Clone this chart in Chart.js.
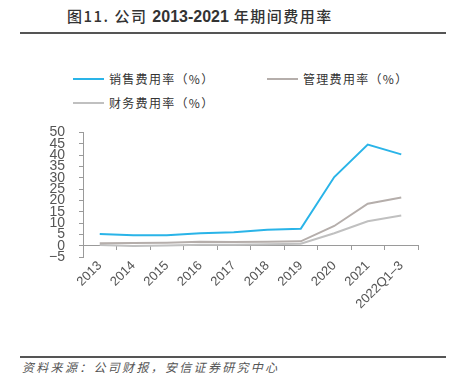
<!DOCTYPE html>
<html><head><meta charset="utf-8">
<script src="https://cdn.jsdelivr.net/npm/chart.js@4"></script>
<style>
html,body{margin:0;padding:0;background:#fff;width:455px;height:389px;overflow:hidden;position:relative;font-family:"Noto Sans CJK SC",sans-serif;}
#title{position:absolute;left:67px;top:5px;font-size:15px;font-weight:500;color:#333;white-space:nowrap;letter-spacing:1.5px;}
#title .num{font-family:"Liberation Sans",Arial,sans-serif;font-weight:bold;font-size:16px;letter-spacing:0;}
.rule{position:absolute;left:20px;width:426px;height:2px;background:#555;}
#legend{position:absolute;left:0;top:0;width:455px;height:120px;}
.li{position:absolute;display:flex;align-items:center;font-size:12px;color:#333;letter-spacing:1.3px;white-space:nowrap;}
.li span.sw{display:inline-block;width:31px;height:2px;margin-right:5px;}
#foot{position:absolute;left:22px;top:358px;font-size:12px;font-style:italic;color:#555;white-space:nowrap;letter-spacing:2.3px;}
#wrap{position:absolute;left:0;top:110px;width:455px;height:230px;}
</style></head>
<body>
<div id="title">图11. 公司 <span class="num">2013-2021</span> 年期间费用率</div>
<div class="rule" style="top:32px"></div>
<div id="legend"></div>
<div id="wrap"><canvas id="c" width="455" height="230"></canvas></div>
<div class="rule" style="top:356px"></div>
<div id="foot">资料来源：公司财报，安信证券研究中心</div>
<script>
const categories = ['2013','2014','2015','2016','2017','2018','2019','2020','2021','2022Q1-3'];
const seriesNames = ['销售费用率（%）','管理费用率（%）','财务费用率（%）'];
const salesRate = [5.2, 4.6, 4.6, 5.5, 5.9, 7.0, 7.5, 30.3, 44.6, 40.3];
const mgmtRate = [1.1, 1.2, 1.3, 1.7, 1.6, 1.7, 1.9, 8.7, 18.5, 21.3];
const finRate = [0.3, -0.1, 0.1, 0.4, 0.4, 0.6, 0.9, 5.5, 10.8, 13.3];
const yTicks = [50,45,40,35,30,25,20,15,10,5,0,-5];
const colors = ['#2ab4e8','#b5aeab','#c0c0c0'];

const legendPos = [[73,70],[267,70],[73,94]];
const lg = document.getElementById('legend');
seriesNames.forEach((n,i)=>{
  const d=document.createElement('div');d.className='li';
  d.style.left=legendPos[i][0]+'px';d.style.top=legendPos[i][1]+'px';
  d.innerHTML='<span class="sw" style="background:'+colors[i]+'"></span><span></span>';
  d.lastChild.textContent=n;lg.appendChild(d);
});

const axisColor='#9a9a9a';
new Chart(document.getElementById('c'),{
  type:'line',
  data:{labels:categories,datasets:[
    {label:seriesNames[0],data:salesRate,borderColor:colors[0],borderWidth:2,pointRadius:0,tension:0,order:1},
    {label:seriesNames[1],data:mgmtRate,borderColor:colors[1],borderWidth:2,pointRadius:0,tension:0,order:2},
    {label:seriesNames[2],data:finRate,borderColor:colors[2],borderWidth:2,pointRadius:0,tension:0,order:3}
  ]},
  options:{
    responsive:false,animation:false,
    layout:{padding:{top:20,right:37,left:0,bottom:0}},
    plugins:{legend:{display:false},tooltip:{enabled:false}},
    scales:{
      x:{type:'category',position:'bottom',offset:true,
        grid:{display:false,drawTicks:false},border:{display:false},
        ticks:{color:'#555',font:{family:'"Liberation Sans", Arial, sans-serif',size:13},maxRotation:45,minRotation:45,padding:1,autoSkip:false,
          callback:(v,i)=>categories[i].replace('-','–')},
        afterFit:(s)=>{s.height=83;}
      },
      x0:{type:'category',position:{y:0},offset:true,
        grid:{drawOnChartArea:false,drawTicks:true,tickLength:4,color:axisColor,offset:true},
        border:{display:true,color:axisColor,width:1},
        ticks:{display:false}
      },
      y:{min:-5,max:50,
        afterBuildTicks:(s)=>{s.ticks=yTicks.map(v=>({value:v}));},
        grid:{drawOnChartArea:false,drawTicks:true,tickLength:4,color:axisColor},
        border:{display:true,color:axisColor,width:1},
        ticks:{color:'#555',autoSkip:false,font:{family:'"Liberation Sans", Arial, sans-serif',size:14},padding:14,
          callback:(v)=> (v<0?'−'+Math.abs(v):String(v))},
        afterFit:(s)=>{s.width=83;}
      }
    }
  }
});
</script>
</body></html>
